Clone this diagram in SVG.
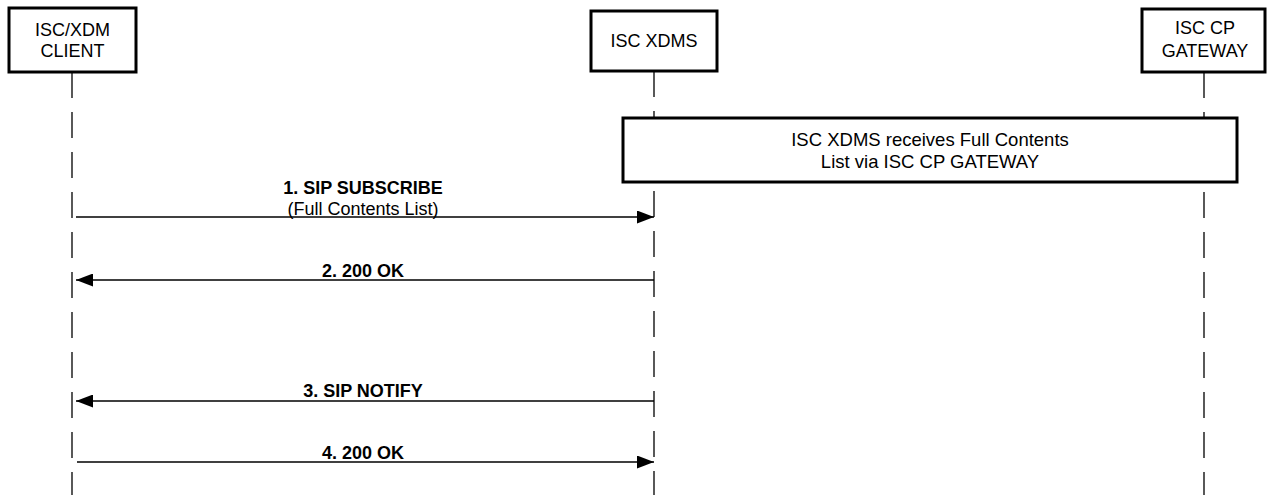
<svg xmlns="http://www.w3.org/2000/svg" width="1267" height="495" viewBox="0 0 1267 495">
<style>
.box{fill:#fff;stroke:#000;stroke-width:3}
.life{stroke:#000;stroke-width:1.3;stroke-dasharray:26 14;fill:none}
.msg{stroke:#000;stroke-width:1.3;fill:none}
.nt{font-family:"Liberation Sans",Arial,sans-serif;font-size:18px;text-anchor:middle;fill:#000}
.lbl{font-family:"Liberation Sans",Arial,sans-serif;font-size:18px;font-weight:bold;text-anchor:middle;fill:#000}
.sub{font-family:"Liberation Sans",Arial,sans-serif;font-size:18px;text-anchor:middle;fill:#000}
.note{font-family:"Liberation Sans",Arial,sans-serif;font-size:18.5px;text-anchor:middle;fill:#000}
</style>
<defs>
<marker id="ah" markerWidth="17" markerHeight="13" refX="17" refY="6.5" orient="auto" markerUnits="userSpaceOnUse">
<path d="M0,0 L17,6.5 L0,13 Z" fill="#000"/>
</marker>
</defs>
<rect width="1267" height="495" fill="#fff"/>
<g id="lifelines">
<line class="life" x1="72" y1="72" x2="72" y2="495"/>
<line class="life" x1="654" y1="71" x2="654" y2="495"/>
<line class="life" x1="1204" y1="72" x2="1204" y2="495"/>
</g>
<g id="client">
<rect class="box" x="9" y="8" width="127" height="64"/>
<text class="nt" x="72.5" y="36">ISC/XDM</text>
<text class="nt" x="72.5" y="57">CLIENT</text>
</g>
<g id="xdms">
<rect class="box" x="591" y="11" width="126" height="60"/>
<text class="nt" x="654" y="47">ISC XDMS</text>
</g>
<g id="gateway">
<rect class="box" x="1142" y="9" width="123" height="63"/>
<text class="nt" x="1205" y="34">ISC CP</text>
<text class="nt" x="1205" y="57">GATEWAY</text>
</g>
<g id="note">
<rect class="box" x="623" y="118" width="614" height="64"/>
<text class="note" x="930" y="146">ISC XDMS receives Full Contents</text>
<text class="note" x="930" y="168">List via ISC CP GATEWAY</text>
</g>
<g id="connectors">
<line class="msg" x1="76" y1="217" x2="654" y2="217" marker-end="url(#ah)"/>
<line class="msg" x1="654" y1="280" x2="76" y2="280" marker-end="url(#ah)"/>
<line class="msg" x1="654" y1="401" x2="76" y2="401" marker-end="url(#ah)"/>
<line class="msg" x1="77" y1="462" x2="654" y2="462" marker-end="url(#ah)"/>
<text class="lbl" x="363" y="194">1. SIP SUBSCRIBE</text>
<text class="sub" x="363" y="215">(Full Contents List)</text>
<text class="lbl" x="363" y="277">2. 200 OK</text>
<text class="lbl" x="363" y="397">3. SIP NOTIFY</text>
<text class="lbl" x="363" y="459">4. 200 OK</text>
</g>
</svg>
